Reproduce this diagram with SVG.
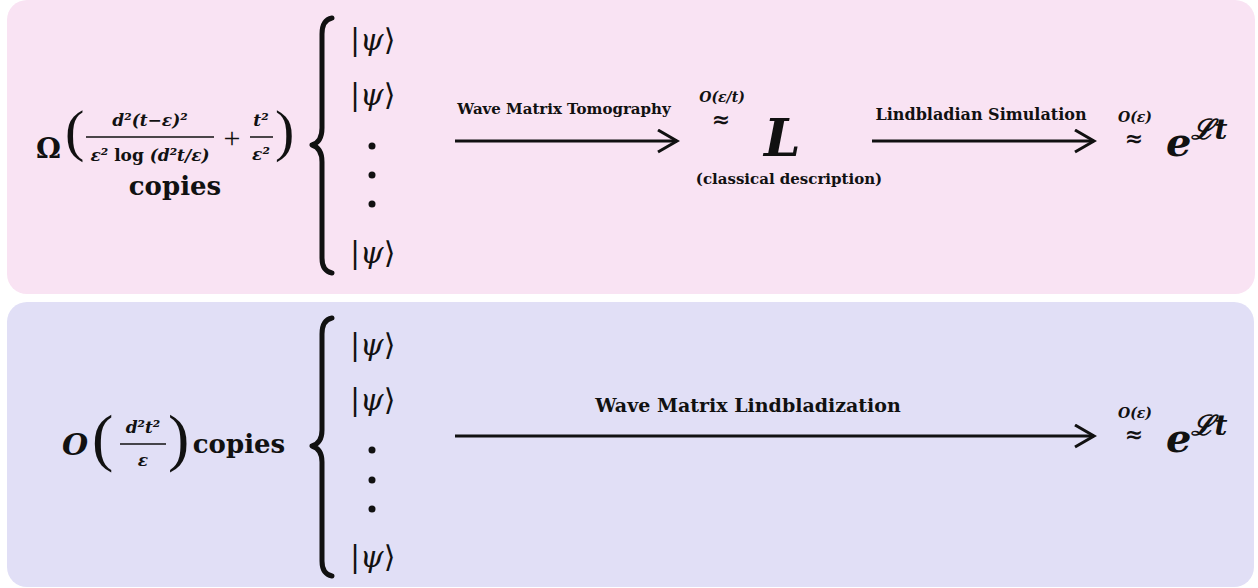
<svg xmlns="http://www.w3.org/2000/svg" width="1258" height="588" viewBox="0 0 1258 588">
<defs>
<style>
.t{font-family:"DejaVu Serif","Liberation Serif",serif;font-weight:bold;fill:#111;}
.lb{font-family:"DejaVu Serif","Liberation Serif",serif;font-weight:bold;fill:#111;}
.m{font-family:"DejaVu Serif","Liberation Serif",serif;font-weight:bold;font-style:italic;fill:#111;}
.p{font-family:"Liberation Serif",serif;font-weight:normal;fill:#111;}
.ap{font-family:"DejaVu Serif",serif;font-weight:bold;fill:#111;text-anchor:middle;}
.ket{font-family:"DejaVu Serif",serif;font-size:30px;fill:#111;}
.br{fill:none;stroke:#111;stroke-width:5;stroke-linecap:round;stroke-linejoin:round;}
.ar{fill:none;stroke:#111;stroke-width:3;}
.dot{fill:#111;}
</style>
<marker id="ah" markerWidth="24" markerHeight="28" refX="21" refY="12" orient="auto" markerUnits="userSpaceOnUse">
<path d="M2,1 L21,12 L2,23" fill="none" stroke="#111" stroke-width="3" stroke-linejoin="miter"/>
</marker>
</defs>
<rect x="7" y="0" width="1248" height="294" rx="20" fill="#f9e3f3"/>
<rect x="7" y="302" width="1247" height="285" rx="20" fill="#e1dff6"/>

<g id="top-copies">
<text class="t" x="36" y="158" font-size="28">Ω</text>
<text class="p" x="65" y="150" font-size="58">(</text>
<text class="m" x="150" y="126" font-size="17" text-anchor="middle">d²(t−ε)²</text>
<line x1="86" y1="137" x2="214" y2="137" stroke="#111" stroke-width="1.5"/>
<text class="m" x="150" y="161" font-size="17" text-anchor="middle">ε² <tspan font-style="normal">log</tspan> (d²t/ε)</text>
<text class="p" x="232" y="148" font-size="30" text-anchor="middle">+</text>
<text class="m" x="261" y="126" font-size="17" text-anchor="middle">t²</text>
<line x1="250" y1="137" x2="273" y2="137" stroke="#111" stroke-width="1.5"/>
<text class="m" x="261" y="160" font-size="17" text-anchor="middle">ε²</text>
<text class="p" x="275" y="150" font-size="58">)</text>
<text class="t" x="175" y="195" font-size="26" text-anchor="middle">copies</text>
</g>

<g id="top-states">
<path class="br" d="M332,18 Q322,20 322,34 L322,128 Q322,142 312,145 Q322,148 322,162 L322,258 Q322,271 332,273"/>
<text class="ket" x="350" y="50">|<tspan font-style="italic">ψ</tspan>⟩</text>
<text class="ket" x="350" y="105">|<tspan font-style="italic">ψ</tspan>⟩</text>
<circle class="dot" cx="372" cy="146" r="3.5"/>
<circle class="dot" cx="372" cy="175" r="3.5"/>
<circle class="dot" cx="372" cy="204" r="3.5"/>
<text class="ket" x="350" y="263">|<tspan font-style="italic">ψ</tspan>⟩</text>
</g>

<g id="top-L">
<text class="ap" x="722" y="102" font-size="14" font-style="italic">O(ε/t)</text>
<text class="ap" x="721" y="127" font-size="22">≈</text>
<text class="m" x="764" y="156" font-size="52" font-weight="normal">L</text>
<text class="t" x="789" y="184" font-size="15" text-anchor="middle">(classical description)</text>
</g>

<g id="top-result">
<text class="ap" x="1135" y="122" font-size="14" font-style="italic">O(ε)</text>
<text class="ap" x="1134" y="146" font-size="22">≈</text>
<text class="m" x="1166" y="156" font-size="40">e<tspan font-size="28" dy="-17">ℒt</tspan></text>
</g>

<g id="bottom-copies">
<text class="m" x="62" y="455" font-size="30" font-weight="normal">O</text>
<text class="p" x="92" y="459" font-size="64">(</text>
<text class="m" x="143" y="433" font-size="17" text-anchor="middle">d²t²</text>
<line x1="120" y1="444" x2="166" y2="444" stroke="#111" stroke-width="1.5"/>
<text class="m" x="143" y="466" font-size="17" text-anchor="middle">ε</text>
<text class="p" x="168" y="459" font-size="64">)</text>
<text class="t" x="239" y="453" font-size="26" text-anchor="middle">copies</text>
</g>

<g id="bottom-states">
<path class="br" d="M332,318 Q322,320 322,334 L322,430 Q322,443 312,446 Q322,449 322,462 L322,561 Q322,574 332,576"/>
<text class="ket" x="350" y="355">|<tspan font-style="italic">ψ</tspan>⟩</text>
<text class="ket" x="350" y="410">|<tspan font-style="italic">ψ</tspan>⟩</text>
<circle class="dot" cx="372" cy="450" r="3.5"/>
<circle class="dot" cx="372" cy="480" r="3.5"/>
<circle class="dot" cx="372" cy="509" r="3.5"/>
<text class="ket" x="350" y="567">|<tspan font-style="italic">ψ</tspan>⟩</text>
</g>

<g id="bottom-result">
<text class="ap" x="1135" y="418" font-size="14" font-style="italic">O(ε)</text>
<text class="ap" x="1134" y="442" font-size="22">≈</text>
<text class="m" x="1166" y="452" font-size="40">e<tspan font-size="28" dy="-17">ℒt</tspan></text>
</g>

<g id="connectors">
<line class="ar" x1="455" y1="141" x2="677" y2="141" marker-end="url(#ah)"/>
<text class="lb" x="564" y="114" font-size="15" text-anchor="middle">Wave Matrix Tomography</text>
<line class="ar" x1="872" y1="141" x2="1094" y2="141" marker-end="url(#ah)"/>
<text class="lb" x="981" y="120" font-size="16" text-anchor="middle">Lindbladian Simulation</text>
<line class="ar" x1="455" y1="436" x2="1094" y2="436" marker-end="url(#ah)"/>
<text class="lb" x="748" y="412" font-size="19" text-anchor="middle">Wave Matrix Lindbladization</text>
</g>
</svg>
